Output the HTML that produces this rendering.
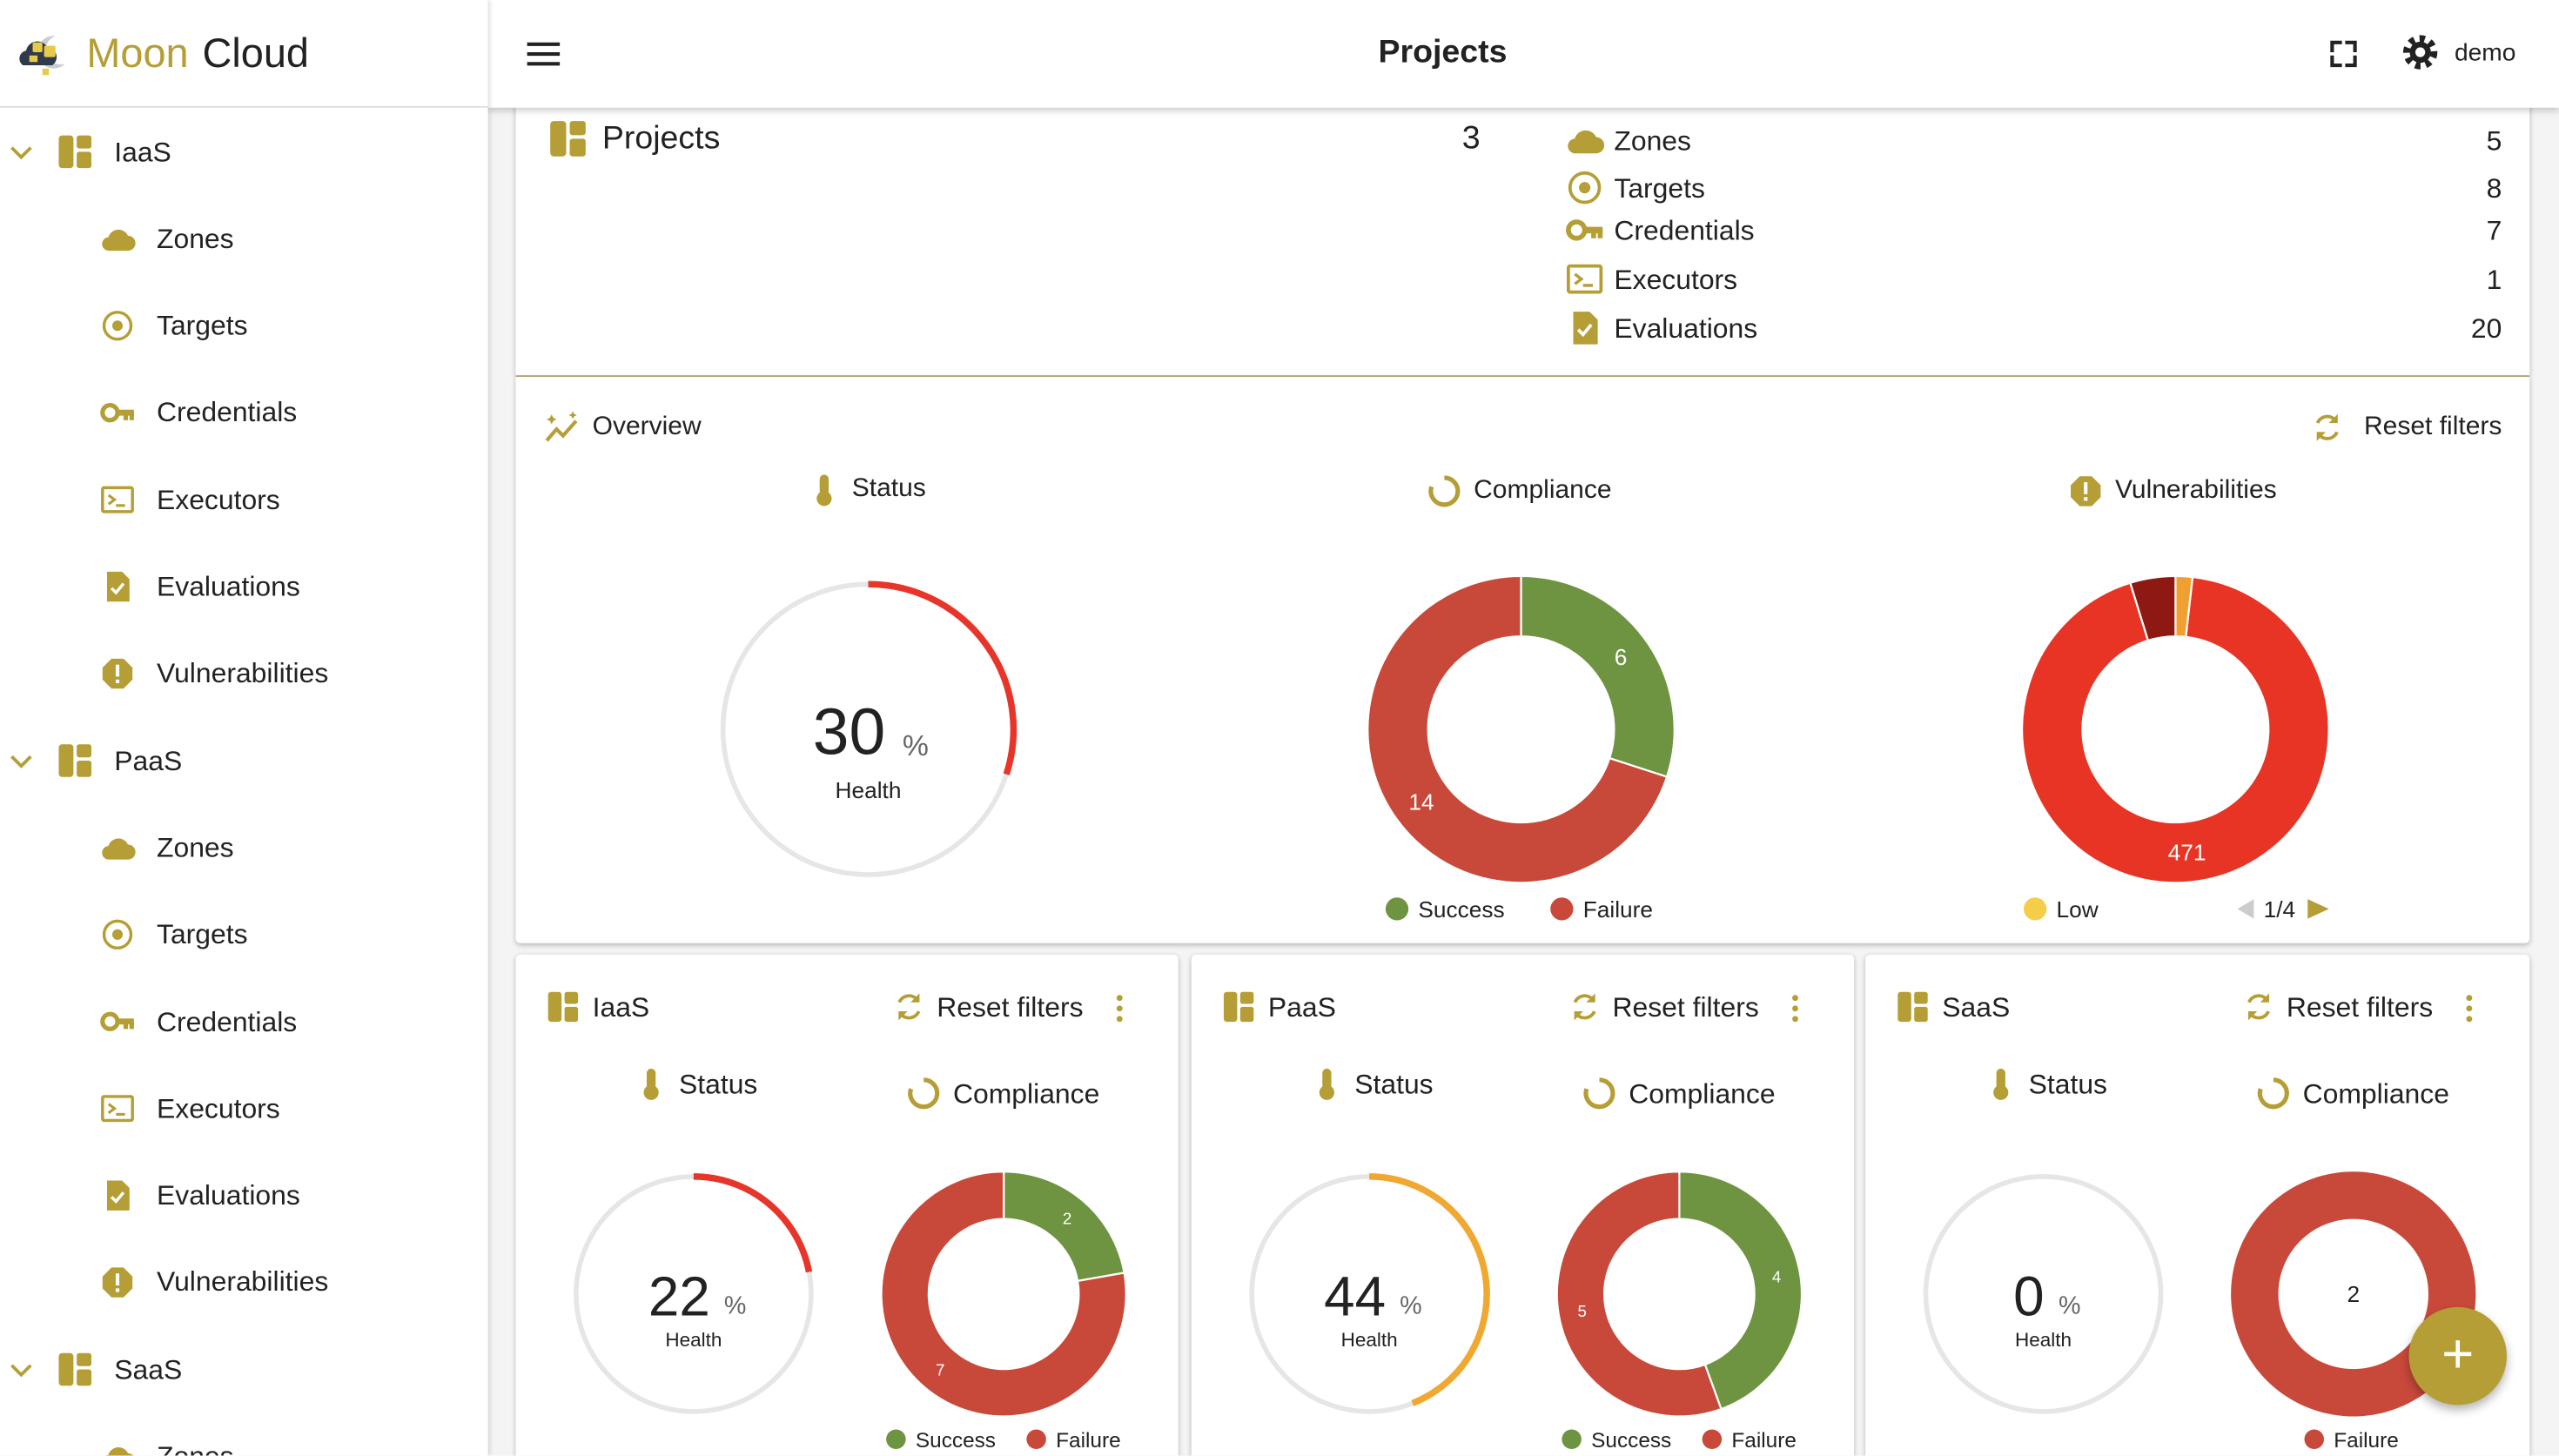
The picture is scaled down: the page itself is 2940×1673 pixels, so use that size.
<!DOCTYPE html>
<html><head><meta charset="utf-8"><title>Moon Cloud - Projects</title>
<style>
html,body{margin:0;padding:0;width:2940px;height:1673px;overflow:hidden;background:#fafafa;font-family:"Liberation Sans",sans-serif;color:#222}
#root{position:absolute;left:0;top:0;width:1568px;height:892px;transform:scale(1.875);transform-origin:0 0;background:#f4f4f4;overflow:hidden}
.abs{position:absolute}
.t{position:absolute;white-space:nowrap;line-height:1}
.card{position:absolute;background:#fff;box-shadow:0 1px 3px rgba(0,0,0,.25);border-radius:3px}
svg{overflow:visible}
</style></head><body>
<div id="root">
  <div class="card" style="left:316px;top:40px;width:1234px;height:190px;border-radius:0"></div>
  <div class="abs" style="left:316px;top:230px;width:1234px;height:1px;background:#b7ab7a"></div>
  <div class="card" style="left:316px;top:231px;width:1234px;height:347px;border-radius:0 0 3px 3px"></div>
  <div class="card" style="left:316px;top:585px;width:406px;height:320px"></div>
  <div class="card" style="left:730px;top:585px;width:406px;height:320px"></div>
  <div class="card" style="left:1143px;top:585px;width:407px;height:320px"></div>

  <div class="abs" style="left:299px;top:0;width:1269px;height:66px;background:#fff;box-shadow:0 2px 4px rgba(0,0,0,.2)"></div>
  <div class="abs" style="left:0;top:0;width:299px;height:892px;background:#fff;box-shadow:1px 0 3px rgba(0,0,0,.15)"></div>
  <div class="abs" style="left:0;top:65px;width:299px;height:1px;background:#ddd"></div>

  <svg id="g" class="abs" width="1568" height="892" style="left:0;top:0"></svg>
  <div id="txt" class="abs" style="left:0;top:0;width:1568px;height:892px"></div>

  <div class="abs" style="left:1476px;top:801px;width:60px;height:60px;border-radius:30px;background:#b59e35;box-shadow:0 3px 6px rgba(0,0,0,.3);color:#fff;font-size:34px;line-height:58px;text-align:center">+</div>
</div>
<script>
// ---- chart data ----
const complianceLabels = ["Success","Failure"];
const overviewCompliance = [6,14];
const iaasCompliance = [2,7];
const paasCompliance = [4,5];
const saasCompliance = [0,2];
const vulnCategories = ["Medium","High","Critical"];
const vulnValues = [9,471,24];
const healthValues = [30,22,44,0];
const summaryLabels = ["Zones","Targets","Credentials","Executors","Evaluations"];
const summaryValues = [5,8,7,1,20];

const OL="#b59e35", GREEN="#6e9441", RED="#c8493a";
const NS="http://www.w3.org/2000/svg";
const G=document.getElementById('g'), T=document.getElementById('txt');

function txt(s,x,y,size,opt){
  opt=opt||{};
  const d=document.createElement('div');
  d.className='t';
  d.textContent=s;
  d.style.fontSize=size+'px';
  d.style.top=(y-size*0.5)+'px';
  if(opt.right){d.style.right=(1568-x)+'px';}
  else if(opt.center){d.style.left=(x-200)+'px';d.style.width='400px';d.style.textAlign='center';}
  else d.style.left=x+'px';
  d.style.color=opt.color||'#222';
  if(opt.bold)d.style.fontWeight='bold';
  
  
  T.appendChild(d);return d;
}
function el(tag,attrs,parent){
  const e=document.createElementNS(NS,tag);
  for(const k in attrs)e.setAttribute(k,attrs[k]);
  (parent||G).appendChild(e);return e;
}
const ICONS={
 dash:'<rect x="2" y="2" width="9" height="20" rx="2"/><rect x="13" y="2" width="9" height="8" rx="1.5"/><rect x="13" y="12" width="9" height="10" rx="1.5"/>',
 cloud:'<path d="M6.5 20a4.5 4.5 0 0 1-.6-9A7 7 0 0 1 19 10a5 5 0 0 1 0 10z"/>',
 target:'<circle cx="12" cy="12" r="9" fill="none" stroke="'+OL+'" stroke-width="2"/><circle cx="12" cy="12" r="3.5"/>',
 key:'<circle cx="7" cy="12" r="5" fill="none" stroke="'+OL+'" stroke-width="3"/><rect x="11" y="10" width="12" height="4"/><rect x="16" y="12" width="3" height="5"/><rect x="20" y="12" width="3" height="5"/>',
 exec:'<rect x="2" y="4" width="20" height="16" rx="1" fill="none" stroke="'+OL+'" stroke-width="2"/><path d="M6 9l4 3-4 3" fill="none" stroke="'+OL+'" stroke-width="1.8"/><rect x="11" y="15" width="6" height="1.8"/>',
 eval:'<path d="M5 2h10l5 5v15H5z"/><path d="M8 13l3 3 5-6" fill="none" stroke="#fff" stroke-width="2"/>',
 vuln:'<path d="M8 2h8l6 6v8l-6 6H8l-6-6V8z"/><rect x="10.8" y="6" width="2.4" height="8" fill="#fff"/><rect x="10.8" y="16" width="2.4" height="2.4" fill="#fff"/>',
 thermo:'<rect x="9" y="2" width="6" height="14" rx="3"/><circle cx="12" cy="18" r="5"/>',
 comp:'<path d="M12 3a9 9 0 1 1-8.5 6" fill="none" stroke="'+OL+'" stroke-width="3"/>',
 reset:'<path d="M18 8A7 7 0 0 0 5.5 9M6 16a7 7 0 0 0 12.5-1" fill="none" stroke="'+OL+'" stroke-width="2.2"/><path d="M19 3v6h-6z M5 21v-6h6z"/>',
 trend:'<path d="M2 20l6-7 4 4 8-9" fill="none" stroke="'+OL+'" stroke-width="2.2"/><path d="M5 4l1 2 2 1-2 1-1 2-1-2-2-1 2-1z M18 2l.8 1.6 1.6.8-1.6.8-.8 1.6-.8-1.6-1.6-.8 1.6-.8z"/>',
 chev:'<path d="M5 9l7 7 7-7" fill="none" stroke="'+OL+'" stroke-width="2.4"/>',
 dots:'<circle cx="12" cy="5" r="2"/><circle cx="12" cy="12" r="2"/><circle cx="12" cy="19" r="2"/>'
};
function icon(kind,cx,cy,size,name,color){
  const g=el('g',{transform:'translate('+(cx-size/2)+','+(cy-size/2)+') scale('+(size/24)+')',fill:color||OL});
  g.innerHTML=ICONS[kind];
  
  
  return g;
}
// ---- logo ----
(function(){
  const g=el('g',{});
  
  
  el('path',{d:'M34 22a10 10 0 1 0 6 17a9 9 0 0 1-6-17z',fill:'#c9ccd1'},g);
  el('path',{d:'M14 40a5 5 0 0 1 2-9a7 7 0 0 1 13-2a6 6 0 0 1 3 11z',fill:'#2f3b4a'},g);
  el('rect',{x:20,y:26,width:6,height:6,rx:1,fill:'#e8c94b'},g);
  el('rect',{x:27,y:28,width:7,height:7,rx:1,fill:'#e8c94b'},g);
  el('rect',{x:18,y:34,width:5,height:4,fill:'#e8c94b'},g);
  el('rect',{x:26,y:42,width:4,height:4,fill:'#e8c94b'},g);
})();
txt('Moon',53,33,25,{color:OL,name:'brand-moon'});
txt('Cloud',124,33,25,{name:'brand-cloud'});

// ---- sidebar ----
const secs=["IaaS","PaaS","SaaS"];
const subs=[["cloud","Zones"],["target","Targets"],["key","Credentials"],["exec","Executors"],["eval","Evaluations"],["vuln","Vulnerabilities"]];
let y=93;
secs.forEach(s=>{
  icon('chev',13,y,20,'collapse-'+s.toLowerCase()+'-icon');
  icon('dash',46,y,24,s.toLowerCase()+'-section-icon');
  txt(s,70,y,17,{name:'sidebar-'+s.toLowerCase(),inter:true});
  y+=53.3;
  subs.forEach(([k,n])=>{
    if(y>910)return;
    icon(k,72,y,22,'sidebar-'+n.toLowerCase()+'-icon');
    txt(n,96,y,17,{name:'sidebar-'+s.toLowerCase()+'-'+n.toLowerCase(),inter:true});
    y+=53.3;
  });
});

// ---- top bar ----
(function(){
  const g=el('g',{fill:'#222'});
  
  
  [27,33,39].forEach(yy=>el('rect',{x:323,y:yy-1,width:20,height:2.2},g));
  const f=el('path',{d:'M1429 34v6h6M1443 34v6h-6M1429 32v-6h6M1443 32v-6h-6',fill:'none',stroke:'#222','stroke-width':2.2});
  
  
  const gear=el('g',{});
  
  
  el('circle',{cx:1483,cy:32,r:8,fill:'none',stroke:'#222','stroke-width':5,'stroke-dasharray':'3.1 3.1'},gear);
  el('circle',{cx:1483,cy:32,r:6.5,fill:'#222'},gear);
  el('circle',{cx:1483,cy:32,r:3,fill:'#fff'},gear);
})();
txt('Projects',884,32,20,{center:true,bold:true,name:'page-title'});
txt('demo',1504,32,15,{name:'user-name',inter:true});

// ---- summary ----
icon('dash',348,85,26,'projects-icon');
txt('Projects',369,85,20,{name:'projects-label'});
txt('3',907,85,20,{right:true,name:'projects-count'});
const sumIcons=["cloud","target","key","exec","eval"], sumY=[86,115,141,171,201];
summaryLabels.forEach((l,i)=>{
  icon(sumIcons[i],971,sumY[i],24,'summary-'+l.toLowerCase()+'-icon');
  txt(l,989,sumY[i],17,{name:'summary-'+l.toLowerCase()+'-label'});
  txt(String(summaryValues[i]),1533,sumY[i],17,{right:true,name:'summary-'+l.toLowerCase()+'-count'});
});

// ---- chart helpers ----
function pt(cx,cy,r,a){return [cx+r*Math.sin(a),cy-r*Math.cos(a)];}
function donut(cx,cy,ro,ri,vals,cols,fs,name,labelColor){
  const tot=vals.reduce((a,b)=>a+b,0);let a0=0;
  vals.forEach((v,i)=>{
    if(!v)return;
    const a1=a0+v/tot*2*Math.PI;
    let p;
    if(v===tot){
      p=el('path',{d:`M${cx} ${cy-ro}A${ro} ${ro} 0 1 1 ${cx-0.01} ${cy-ro}Z M${cx} ${cy-ri}A${ri} ${ri} 0 1 0 ${cx+0.01} ${cy-ri}Z`,fill:cols[i],'fill-rule':'evenodd'});
    }else{
      const la=(a1-a0)>Math.PI?1:0;
      const [x1,y1]=pt(cx,cy,ro,a0),[x2,y2]=pt(cx,cy,ro,a1),[x3,y3]=pt(cx,cy,ri,a1),[x4,y4]=pt(cx,cy,ri,a0);
      p=el('path',{d:`M${x1} ${y1}A${ro} ${ro} 0 ${la} 1 ${x2} ${y2}L${x3} ${y3}A${ri} ${ri} 0 ${la} 0 ${x4} ${y4}Z`,fill:cols[i],stroke:'#fff','stroke-width':1.2});
    }
    
    
    if(fs && v/tot>0.15){
      let lx,ly;
      if(v===tot){lx=cx;ly=cy;}else{[lx,ly]=pt(cx,cy,(ro+ri)/2,(a0+a1)/2);}
      const t=el('text',{x:lx,y:ly+fs*0.35,'text-anchor':'middle','font-size':fs,fill:v===tot?'#222':(labelColor||'#fff'),'font-family':'Liberation Sans, sans-serif'});
      t.textContent=v;
      
      
    }
    a0=a1;
  });
}
function gauge(cx,cy,r,pct,col,bigFs,name){
  const c=el('circle',{cx,cy,r,fill:'none',stroke:'#e6e6e6','stroke-width':3});
  
  
  if(pct>0){
    const a=pct/100*2*Math.PI;const [x2,y2]=pt(cx,cy,r,a);
    const p=el('path',{d:`M${cx} ${cy-r}A${r} ${r} 0 ${a>Math.PI?1:0} 1 ${x2} ${y2}`,fill:'none',stroke:col,'stroke-width':4});
    
    
  }
  const s=String(pct);
  const w=bigFs*0.55*s.length;
  const big=bigFs>35;
  const off=big?12:9;
  txt(s,cx-off-w/2,cy+2,bigFs,{name:name+'-value'}).style.width=w+'px';
  txt('%',cx+w/2-off+(big?11:9),cy+(big?10:8),bigFs*0.45,{color:'#666',name:name+'-unit'});
  txt('Health',cx,cy+(big?37:28),big?14:12,{center:true,name:name+'-caption'});
}
function gaugeColor(p){return p>=40?'#f0a830':'#e8352a';}
function legendDot(cx,cy,r,col,name){
  const c=el('circle',{cx,cy,r,fill:col});
  
  
}

// ---- overview ----
icon('trend',345,262,24,'overview-icon');
txt('Overview',363,262,16,{name:'overview-title'});
icon('reset',1426,262,22,'overview-reset-icon');
txt('Reset filters',1533,262,16,{right:true,name:'overview-reset-filters',inter:true});
icon('thermo',505,300,22,'status-icon');
txt('Status',522,300,16,{name:'status-title'});
icon('comp',885,301,22,'compliance-icon');
txt('Compliance',903,301,16,{name:'compliance-title'});
icon('vuln',1278,301,22,'vulnerabilities-icon');
txt('Vulnerabilities',1296,301,16,{name:'vulnerabilities-title'});
gauge(532,447,89,healthValues[0],gaugeColor(healthValues[0]),40,'overview-health');
donut(932,447,94,57,overviewCompliance,[GREEN,RED],14,'overview-compliance');
legendDot(856,557,7,GREEN,'legend-success-dot');txt(complianceLabels[0],869,557,14,{name:'legend-success'});
legendDot(957,557,7,RED,'legend-failure-dot');txt(complianceLabels[1],970,557,14,{name:'legend-failure'});
donut(1333,447,94,57,vulnValues,['#f0a030','#e83424','#8e1912'],14,'vulnerabilities');
legendDot(1247,557,7,'#f5cd48','legend-low-dot');txt('Low',1260,557,14,{name:'legend-low'});
(function(){
  const a=el('path',{d:'M1381 551v12l-10-6z',fill:'#ccc'});
  
  
  const b=el('path',{d:'M1414 551v12l13-6z',fill:OL});
  
  
})();
txt('1/4',1387,557,14,{name:'legend-page-indicator'});

// ---- section cards ----
const cardNames=["IaaS","PaaS","SaaS"], cardComp=[iaasCompliance,paasCompliance,saasCompliance];
cardNames.forEach((n,i)=>{
  const dx=i*414-(i===2?1:0), k=n.toLowerCase();
  icon('dash',345+dx,617,22,k+'-card-icon');
  txt(n,363+dx,617,17,{name:k+'-card-title'});
  icon('reset',557+dx,617,22,k+'-reset-icon');
  txt('Reset filters',574+dx,617,17,{name:k+'-reset-filters',inter:true});
  icon('dots',686+dx,618,22,k+'-more-menu');
  icon('thermo',399+dx,664,22,k+'-status-icon');
  txt('Status',416+dx,664,17,{name:k+'-status-title'});
  icon('comp',566+dx,670,22,k+'-compliance-icon');
  txt('Compliance',584+dx,670,17,{name:k+'-compliance-title'});
  gauge(425+dx,793,72,healthValues[i+1],gaugeColor(healthValues[i+1]),34,k+'-health');
  donut(615+dx,793,75,46,cardComp[i],[GREEN,RED],i===2?14:10,k+'-compliance');
  if(cardComp[i][0]>0){
    legendDot(549+dx,882,6,GREEN,k+'-legend-success-dot');txt(complianceLabels[0],561+dx,882,13,{name:k+'-legend-success'});
    legendDot(635+dx,882,6,RED,k+'-legend-failure-dot');txt(complianceLabels[1],647+dx,882,13,{name:k+'-legend-failure'});
  }else{
    legendDot(1418,882,6,RED,k+'-legend-failure-dot');txt(complianceLabels[1],1430,882,13,{name:k+'-legend-failure'});
  }
});
</script>
</body></html>
